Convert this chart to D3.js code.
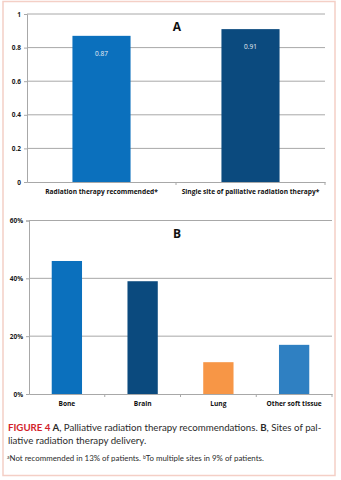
<!DOCTYPE html>
<html>
<head>
<meta charset="utf-8">
<script src="https://cdn.jsdelivr.net/npm/d3@7"></script>
<style>
  body { margin: 0; background: #fff; }
  svg { display: block; }
</style>
</head>
<body>
<svg width="341" height="480"></svg>
<script>
// Panel A data
const catsA = ["Radiation therapy recommended*", "Single site of palliative radiation therapy*"];
const valsA = [0.87, 0.91];
const colorsA = ["#0b70bd", "#0b4a7e"];
const ticksA = [0, 0.2, 0.4, 0.6, 0.8, 1];

// Panel B data
const catsB = ["Bone", "Brain", "Lung", "Other soft tissue"];
const valsB = [0.46, 0.39, 0.11, 0.17];
const colorsB = ["#0b70bd", "#0b4a7e", "#f79646", "#2f80c2"];
const ticksB = [0, 0.2, 0.4, 0.6];

const svg = d3.select("svg");
const grid = "#a8a8a8";
const chartFont = "'Open Sans', sans-serif";

// pink frame round the figure
svg.append("rect")
    .attr("x", 3).attr("y", 1.5)
    .attr("width", 332).attr("height", 474)
    .attr("fill", "none")
    .attr("stroke", "#f4cfc6")
    .attr("stroke-width", 1.5);

function panel(opts) {
    const { cats, vals, colors, ticks, x0, x1, yTop, yBot, maxV, barFrac, fmt, title, titleY, labelY, showVals } = opts;
    const x = d3.scaleBand().domain(cats).range([x0, x1]);
    const y = d3.scaleLinear().domain([0, maxV]).range([yBot, yTop]);
    const g = svg.append("g");

    // gridlines
    g.selectAll("line.grid")
        .data(ticks.filter(t => t > 0))
        .join("line")
        .attr("x1", x0).attr("x2", x1)
        .attr("y1", d => y(d)).attr("y2", d => y(d))
        .attr("stroke", grid).attr("stroke-width", 1);

    // y axis
    const yAxis = d3.axisLeft(y).tickValues(ticks).tickFormat(fmt).tickSize(3).tickPadding(3);
    const ya = g.append("g").attr("transform", `translate(${x0},0)`).call(yAxis);
    ya.select(".domain").attr("stroke", grid);
    ya.selectAll(".tick line").attr("stroke", grid);
    ya.selectAll("text")
        .attr("fill", "#1a1a1a")
        .style("font", `bold 6.5px ${chartFont}`);

    // x axis
    const xa = g.append("g").attr("transform", `translate(0,${yBot})`)
        .call(d3.axisBottom(x).tickSize(0).tickFormat(""));
    xa.select(".domain").attr("stroke", grid);
    // category separators
    g.selectAll("line.sep")
        .data(cats)
        .join("line")
        .attr("x1", d => x(d) + x.bandwidth()).attr("x2", d => x(d) + x.bandwidth())
        .attr("y1", yBot).attr("y2", yBot + 3)
        .attr("stroke", grid);

    const bw = x.bandwidth() * barFrac;
    g.selectAll("rect.bar")
        .data(vals)
        .join("rect")
        .attr("x", (d, i) => x(cats[i]) + (x.bandwidth() - bw) / 2)
        .attr("y", d => y(d))
        .attr("width", bw)
        .attr("height", d => yBot - y(d))
        .attr("fill", (d, i) => colors[i]);

    if (showVals) {
        g.selectAll("text.val")
            .data(vals)
            .join("text")
            .attr("x", (d, i) => x(cats[i]) + x.bandwidth() / 2)
            .attr("y", d => y(d) + 20)
            .attr("text-anchor", "middle")
            .attr("fill", "#e8eef6")
            .style("font", `6.5px ${chartFont}`)
            .text(d => d.toFixed(2));
    }

    g.selectAll("text.cat")
        .data(cats)
        .join("text")
        .attr("x", d => x(d) + x.bandwidth() / 2)
        .attr("y", labelY)
        .attr("text-anchor", "middle")
        .attr("fill", "#111")
        .style("font", `bold 6.6px ${chartFont}`)
        .text(d => d);

    g.append("text")
        .attr("x", 177).attr("y", titleY)
        .attr("text-anchor", "middle")
        .attr("fill", "#111")
        .style("font", `bold 12px ${chartFont}`)
        .text(title);
}

panel({
    cats: catsA, vals: valsA, colors: colorsA, ticks: ticksA,
    x0: 27, x1: 325, yTop: 14, yBot: 182, maxV: 1, barFrac: 0.39,
    fmt: d => d3.format("~g")(d), title: "A", titleY: 31, labelY: 194, showVals: true
});

panel({
    cats: catsB, vals: valsB, colors: colorsB, ticks: ticksB,
    x0: 29, x1: 332, yTop: 220.5, yBot: 394, maxV: 0.6, barFrac: 0.4,
    fmt: d3.format(".0%"), title: "B", titleY: 238, labelY: 406, showVals: false
});

// caption
const capFont = "Lato, 'Open Sans', sans-serif";
const cap = svg.append("text")
    .attr("x", 8).attr("y", 431)
    .style("font", `9.7px ${capFont}`)
    .attr("fill", "#2b2b2b");
cap.append("tspan").attr("fill", "#d2232a").attr("font-weight", "bold").text("FIGURE 4 ");
cap.append("tspan").attr("font-weight", "bold").text("A");
cap.append("tspan").text(", Palliative radiation therapy recommendations. ");
cap.append("tspan").attr("font-weight", "bold").text("B");
cap.append("tspan").text(", Sites of pal-");

svg.append("text")
    .attr("x", 8).attr("y", 444)
    .style("font", `9.7px ${capFont}`)
    .attr("fill", "#2b2b2b")
    .text("liative radiation therapy delivery.");

const foot = svg.append("text")
    .attr("x", 7).attr("y", 461)
    .style("font", `7.9px ${capFont}`)
    .attr("fill", "#2b2b2b");
foot.append("tspan").attr("font-size", "5px").attr("dy", -2).text("a");
foot.append("tspan").attr("dy", 2).text("Not recommended in 13% of patients. ");
foot.append("tspan").attr("font-size", "5px").attr("dy", -2).text("b");
foot.append("tspan").attr("dy", 2).text("To multiple sites in 9% of patients.");
</script>
</body>
</html>
